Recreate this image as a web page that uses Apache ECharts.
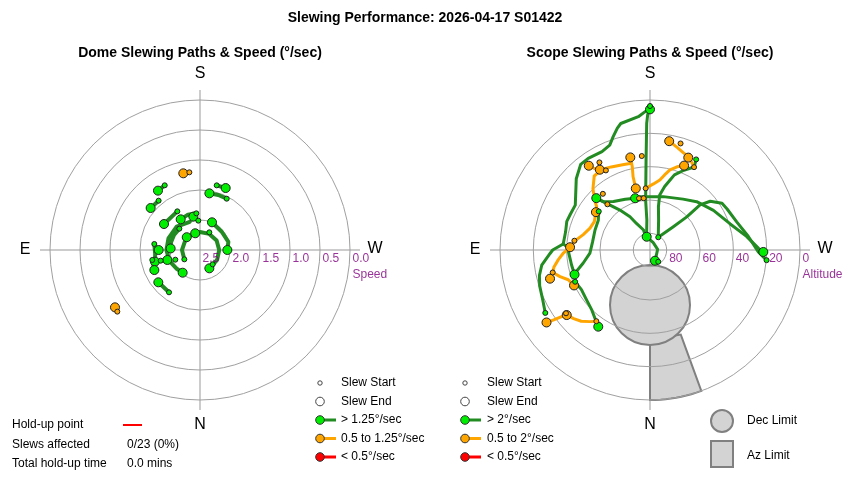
<!DOCTYPE html>
<html><head><meta charset="utf-8">
<script src="https://cdn.jsdelivr.net/npm/echarts@6/dist/echarts.min.js"></script>
<style>html,body{margin:0;padding:0;background:#fff}#c{width:850px;height:480px}</style>
</head><body><div id="c"></div>
<script>
// ---------- texts ----------
const mainTitle = 'Slewing Performance: 2026-04-17 S01422';
const domeTitle = 'Dome Slewing Paths & Speed (°/sec)';
const scopeTitle = 'Scope Slewing Paths & Speed (°/sec)';
const directions = ['S', 'E', 'W', 'N'];
const speedTicks = [2.5, 2.0, 1.5, 1.0, 0.5, 0.0];
const altTicks = [80, 60, 40, 20, 0];
const domeLegend = ['Slew Start', 'Slew End', '> 1.25°/sec', '0.5 to 1.25°/sec', '< 0.5°/sec'];
const scopeLegend = ['Slew Start', 'Slew End', '> 2°/sec', '0.5 to 2°/sec', '< 0.5°/sec'];
const limitLegend = ['Dec Limit', 'Az Limit'];
const holdLabels = ['Hold-up point', 'Slews affected', 'Total hold-up time'];
const holdValues = ['', '0/23 (0%)', '0.0 mins'];

// ---------- dome data: [speed °/s, azimuth °] ----------
const domeGreenPaths = [
  [[1.272,151.4],[1.288,144.7]],
  [[1.427,140],[1.42,130.4]],
  [[1.536,207.5],[1.534,198.4],[1.543,189.4]],
  [[1.387,194.5],[1.382,202.5]],
  [[1.753,149.6],[1.76,125.8]],
  [[1.886,174.3],[1.878,161.2],[1.896,147.8]],
  [[2.01,176.7],[1.933,168.7]],
  [[1.997,203.4],[2.027,230],[2.008,254],[2.044,270]],
  [[2.196,59],[2.2,90],[2.21,120],[2.21,150],[2.2,180],[2.19,210],[2.18,240],[2.18,270],[2.17,300],[2.157,333]],
  [[2.005,136],[2.0,120],[2.0,105],[2.01,93]],
  [[2.0,160],[1.95,135],[1.94,110],[1.94,90],[1.96,70],[2.0,52],[2.024,37.4]],
  [[1.821,74.8],[1.931,73]],
  [[1.688,78.2],[1.669,66.3]],
  [[1.732,97.5],[1.75,85],[1.725,75.5]],
  [[1.626,36.2],[1.621,52.2]],
  [[2.181,318.5],[2.157,333]]
];
const domeBigGreen = [[1.288,144.7],[1.42,130.4],[1.543,189.4],[1.382,202.5],[1.76,125.8],[1.896,147.8],[1.933,168.7],[1.997,203.4],[2.21,164],[2.193,134],[2.01,93],[1.811,90],[2.044,270],[1.931,73],[1.725,75.5],[1.669,66.3],[2.024,37.4],[2.157,333],[1.621,52.2]];
const domeSmallGreen = [[1.272,151.4],[1.427,140],[1.536,207.5],[1.387,194.5],[1.753,149.6],[1.886,174.3],[2.01,176.7],[2.167,207.8],[2.005,135.9],[2.196,59.2],[1.732,97.5],[1.821,74.8],[1.688,78.2],[2.181,318.5],[1.626,36.2],[2.058,68.6]];
const domeBigOrange = [[1.192,167.7],[0.791,56]];
const domeSmallOrange = [[1.193,172.2],[0.781,53.3]];

// ---------- scope data: [altitude °, azimuth °] ----------
const scopeGreenPaths = [
  [[16.7,59],[19,65],[20.4,72],[21.9,77],[24.4,82],[30,88],[31.6,90],[37.8,94],[38.2,102],[37.2,109],[37.6,114],[37.7,121],[28.5,134],[23.9,141],[23.7,146],[24.3,154],[22.6,159],[18.5,162],[14.3,165],[12.1,167],[9.7,175],[6.9,178],[5.6,180]],
  [[4,180],[9,179],[14,178.5],[35.9,177.5],[59.9,175],[71.9,174],[82.1,165]],
  [[51.5,127],[54.2,120],[54.9,110],[55.2,98],[53.9,87],[49.2,79],[44.3,74],[42.4,72]],
  [[42.4,72],[42.1,79],[41.5,86],[40.4,92],[37.8,94]],
  [[41.2,67],[42.5,60],[41.6,52],[39.8,44],[36.9,38],[34.5,34]],
  [[47.9,135],[51.8,137],[60,143],[66.7,149],[72.1,153],[77.4,162],[80.5,162],[81.8,166]],
  [[45.2,134],[49.7,136],[53.6,143],[56.1,154],[57.7,164]],
  [[57.7,164],[57.4,169],[57,194],[53.6,213],[49.7,224],[45.1,238],[39.4,252],[31.5,262],[25,269],[22,271]],
  [[80.9,213],[70.2,225],[60.3,228],[49.6,228],[43.5,231],[38.5,237],[37.6,242],[35.3,252],[30.5,262],[25,271],[19.8,275]],
  [[80.9,213],[71.3,196],[63.5,191],[56.5,190],[50.9,193],[46.3,196],[42.6,198],[38,203],[33.6,208],[29,207]],
  [[82.2,168],[85.2,204],[85.4,265],[84.6,318],[82.9,335]]
];
const scopeOrangePaths = [
  [[23.7,190],[26.4,195],[28.3,199],[29.6,202],[31.4,205],[33.7,208]],
  [[35.4,202],[37.5,198],[40.5,194],[44.1,191],[47.6,188],[50.3,183],[52.9,176]],
  [[27.5,144],[31.4,146],[33.9,148]],
  [[33.6,149],[35,155],[36.4,163],[36.8,168]],
  [[33.2,168],[38.8,168],[44.9,167],[49.4,167],[52.1,168]],
  [[33.9,148],[34.4,143],[39.8,137],[45.4,132],[48.8,129],[50.4,125]],
  [[50.4,125],[52.5,117],[51.7,110],[48.9,103],[45.5,98],[42,92]],
  [[42,92],[38,88],[34.7,84],[31.5,80],[30.1,77]],
  [[30.1,77],[33.7,73.5],[37.8,70],[39.7,65]],
  [[14.2,55],[18.6,54],[23.6,53],[26.6,52],[28.4,48],[30.6,44],[33.9,40],[36.5,37]]
];
const scopeBigGreen = [[5.6,180],[45.2,134],[57.7,164],[81.8,166],[82.9,335],[22,271],[42.4,72],[34.5,34]];
const scopeSmallGreen = [[3.6,180],[80.9,213],[81.4,325],[19.8,275],[16.7,59],[41.2,67],[51.5,127],[29,207]];
const scopeBigOrange = [[23.7,190],[30,202.5],[35.4,202],[33.2,168],[27.5,144],[33.2,148],[52.1,167],[50.4,125],[42,92],[27.6,74],[39.7,65],[14.2,55],[26.6,52]];
const scopeSmallOrange = [[23.5,196],[33.7,208],[33.4,175],[29.3,150],[35.4,151],[52.9,176],[46,140],[52.5,137],[58.3,168],[58.7,173],[44.3,97],[30.1,77],[36.5,37],[26.9,53]];

// limits: Dec limit circle spans altitude [near, far] along azimuth 0; Az limit wedge [azFrom, azTo, altTop]
const decLimit = [81, 33];
const decLimitAz = 0;
const azLimit = [340, 360, 36];

// ---------- styles ----------
const FONT = '"Liberation Sans", Arial, sans-serif';
const GREEN_LINE = '#228B22', GREEN_DOT = '#00EE00';
const ORANGE_LINE = '#FFA500', ORANGE_DOT = '#FFA500';
const RED = '#FF0000';
const PURPLE = '#800080';
const RING = '#A0A0A0';
const R = 150;
const centers = [[200, 250], [650, 250]];

const chart = echarts.init(document.getElementById('c'), null, {renderer: 'canvas'});

function pathSeries(paths, pi, color, width) {
  return paths.map(p => ({
    type: 'line', coordinateSystem: 'polar', polarIndex: pi, data: p,
    showSymbol: false, symbol: 'none', lineStyle: {color, width, cap: 'round', join: 'round'},
    silent: true, animation: false, z: 3
  }));
}
function dotSeries(data, pi, color, size, z) {
  return {type: 'scatter', coordinateSystem: 'polar', polarIndex: pi, data, symbolSize: size,
    itemStyle: {color, borderColor: '#222', borderWidth: 1, opacity: 1}, z, animation: false, silent: true};
}
function tickLabelSeries(pi, ticks, fmt, name, angle) {
  return [{
    type: 'scatter', coordinateSystem: 'polar', polarIndex: pi, data: ticks.map(v => [v, angle]),
    symbolSize: 1, itemStyle: {color: 'transparent'}, animation: false, silent: true, z: 4,
    label: {show: true, position: 'right', distance: 2, offset: [0, 9], formatter: p => fmt(p.value[0]),
      color: PURPLE, fontSize: 12, fontFamily: FONT}
  }, {
    type: 'scatter', coordinateSystem: 'polar', polarIndex: pi, data: [[ticks[ticks.length - 1], angle]],
    symbolSize: 1, itemStyle: {color: 'transparent'}, animation: false, silent: true, z: 4,
    label: {show: true, position: 'right', distance: 2, offset: [0, 25], formatter: name,
      color: PURPLE, fontSize: 12, fontFamily: FONT}
  }];
}

const limitSeries = [
  {
    type: 'custom', coordinateSystem: 'polar', polarIndex: 1, z: 0, silent: true, animation: false,
    data: [[azLimit[2], azLimit[0]]],
    renderItem(params, api) {
      const pts = [api.coord([azLimit[2], azLimit[0]])];
      for (let a = azLimit[0]; a <= azLimit[1]; a += 2) pts.push(api.coord([0, a]));
      pts.push(api.coord([azLimit[2], azLimit[1]]));
      return {type: 'polygon', shape: {points: pts}, style: {fill: '#D3D3D3', stroke: '#808080', lineWidth: 2}};
    }
  },
  {
    type: 'custom', coordinateSystem: 'polar', polarIndex: 1, z: 0.5, silent: true, animation: false,
    data: [[decLimit[0], decLimitAz]],
    renderItem(params, api) {
      const a = api.coord([decLimit[0], decLimitAz]);
      const b = api.coord([decLimit[1], decLimitAz]);
      return {type: 'circle',
        shape: {cx: (a[0] + b[0]) / 2, cy: (a[1] + b[1]) / 2, r: Math.hypot(a[0] - b[0], a[1] - b[1]) / 2},
        style: {fill: '#D3D3D3', stroke: '#808080', lineWidth: 2}};
    }
  }
];

// ---------- graphic (titles, compass letters, cross lines, legends) ----------
const g = [];
function txt(x, y, text, opt) {
  g.push(Object.assign({type: 'text', x, y, z: 10, style: Object.assign({text, fill: '#000', font: '12px ' + FONT,
    textAlign: 'left', textVerticalAlign: 'middle'}, opt || {})}));
}
txt(425, 18, mainTitle, {font: 'bold 14px ' + FONT, textAlign: 'center'});
txt(200, 53, domeTitle, {font: 'bold 14px ' + FONT, textAlign: 'center'});
txt(650, 53, scopeTitle, {font: 'bold 14px ' + FONT, textAlign: 'center'});
centers.forEach(([cx, cy]) => {
  g.push({type: 'line', z: -1, shape: {x1: cx, y1: cy - R - 10, x2: cx, y2: cy + R + 10}, style: {stroke: '#999', lineWidth: 1}});
  g.push({type: 'line', z: -1, shape: {x1: cx - R - 10, y1: cy, x2: cx + R + 10, y2: cy}, style: {stroke: '#999', lineWidth: 1}});
  const big = {font: '16px ' + FONT, textAlign: 'center'};
  txt(cx, cy - 176, directions[0], big);
  txt(cx - 175, cy, directions[1], big);
  txt(cx + 175, cy - 1, directions[2], big);
  txt(cx, cy + 175, directions[3], big);
});
const rows = [383, 401.5, 420, 438.5, 457];
function legendCol(mx, tx, labels) {
  g.push({type: 'circle', z: 10, shape: {cx: mx, cy: rows[0], r: 2.2}, style: {fill: '#fff', stroke: '#444', lineWidth: 1}});
  g.push({type: 'circle', z: 10, shape: {cx: mx, cy: rows[1], r: 4.3}, style: {fill: '#fff', stroke: '#444', lineWidth: 1}});
  [[GREEN_LINE, GREEN_DOT], [ORANGE_LINE, ORANGE_DOT], [RED, RED]].forEach(([lc, dc], i) => {
    const y = rows[2 + i];
    g.push({type: 'line', z: 10, shape: {x1: mx, y1: y, x2: mx + 16, y2: y}, style: {stroke: lc, lineWidth: 3}});
    g.push({type: 'circle', z: 11, shape: {cx: mx, cy: y, r: 4.3}, style: {fill: dc, stroke: '#333', lineWidth: 1}});
  });
  labels.forEach((t, i) => txt(tx, rows[i], t));
}
legendCol(320, 341, domeLegend);
legendCol(465, 487, scopeLegend);
g.push({type: 'circle', z: 10, shape: {cx: 722, cy: 421, r: 11}, style: {fill: '#D3D3D3', stroke: '#808080', lineWidth: 2}});
g.push({type: 'rect', z: 10, shape: {x: 711, y: 441, width: 22, height: 26}, style: {fill: '#D3D3D3', stroke: '#808080', lineWidth: 2}});
txt(747, 421, limitLegend[0]);
txt(747, 456, limitLegend[1]);
const hy = [425, 445, 464];
holdLabels.forEach((t, i) => { txt(12, hy[i], t); if (holdValues[i]) txt(127, hy[i], holdValues[i]); });
g.push({type: 'line', z: 10, shape: {x1: 123, y1: 425, x2: 142, y2: 425}, style: {stroke: RED, lineWidth: 2}});

const axisCommonAngle = {type: 'value', min: 0, max: 360, startAngle: 270, clockwise: true,
  axisLine: {show: false}, axisTick: {show: false}, axisLabel: {show: false}, splitLine: {show: false}};
const axisCommonRadius = {type: 'value', inverse: true, z: 1,
  axisLine: {show: false}, axisTick: {show: false}, axisLabel: {show: false},
  splitLine: {show: true, lineStyle: {color: RING, width: 1}}};

const option = {
  animation: false,
  backgroundColor: '#fff',
  polar: [{center: centers[0], radius: R}, {center: centers[1], radius: R}],
  angleAxis: [Object.assign({polarIndex: 0}, axisCommonAngle), Object.assign({polarIndex: 1}, axisCommonAngle)],
  radiusAxis: [
    Object.assign({polarIndex: 0, min: 0, max: 2.5, interval: 0.5}, axisCommonRadius),
    Object.assign({polarIndex: 1, min: 0, max: 90, interval: 20}, axisCommonRadius)
  ],
  graphic: g,
  series: [].concat(
    limitSeries,
    pathSeries(domeGreenPaths, 0, GREEN_LINE, 4),
    pathSeries(scopeGreenPaths, 1, GREEN_LINE, 3),
    pathSeries(scopeOrangePaths, 1, ORANGE_LINE, 3),
    [
      dotSeries(domeBigGreen, 0, GREEN_DOT, 9, 5),
      dotSeries(domeBigOrange, 0, ORANGE_DOT, 9, 5),
      dotSeries(domeSmallGreen, 0, GREEN_DOT, 5, 6),
      dotSeries(domeSmallOrange, 0, ORANGE_DOT, 5, 6),
      dotSeries(scopeBigGreen, 1, GREEN_DOT, 9, 5),
      dotSeries(scopeBigOrange, 1, ORANGE_DOT, 9, 5),
      dotSeries(scopeSmallGreen, 1, GREEN_DOT, 5, 6),
      dotSeries(scopeSmallOrange, 1, ORANGE_DOT, 5, 6)
    ],
    tickLabelSeries(0, speedTicks, v => v.toFixed(1), 'Speed', 270),
    tickLabelSeries(1, altTicks, v => String(v), 'Altitude', 270)
  )
};
chart.setOption(option);
</script>
</body></html>
